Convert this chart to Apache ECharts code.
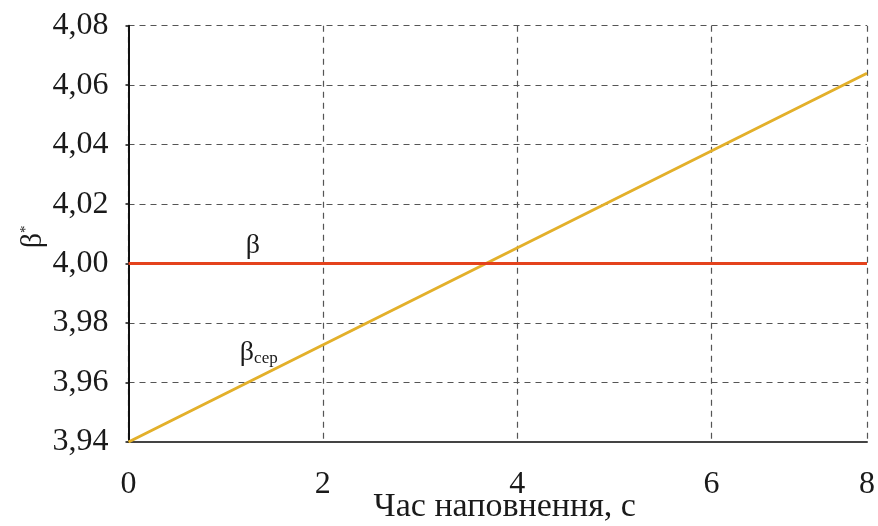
<!DOCTYPE html>
<html>
<head>
<meta charset="utf-8">
<script src="https://cdn.jsdelivr.net/npm/echarts@6/dist/echarts.min.js"></script>
<style>
  html, body { margin: 0; padding: 0; background: #fff; }
  #chart { width: 878px; height: 526px; }
</style>
</head>
<body>
<div id="chart"></div>
<script>
// Filling time, s
var fillTime = [0, 7.6];
// Target coefficient β (constant)
var betaValues = [4.00, 4.00];
// Mean coefficient β_сер over the filling time
var betaMeanValues = [3.94, 4.064];

// Time axis: ticks every 2 s, closing tick at the end of filling
var xTicks = { min: 0, max: 7.6, interval: 2 };
var xTickLabels = ['0', '2', '4', '6', '8'];
var yTicks = { min: 3.94, max: 4.08, interval: 0.02 };

var fontFamily = '"Liberation Serif", "DejaVu Serif", serif';

function pairs(xs, ys) {
  return xs.map(function (x, i) { return [x, ys[i]]; });
}

var chart = echarts.init(document.getElementById('chart'), null, { renderer: 'canvas' });

chart.setOption({
  backgroundColor: '#ffffff',
  animation: false,
  grid: {
    left: 128.5, right: 11, top: 25.7, bottom: 84,
    containLabel: false, outerBoundsMode: 'none'
  },
  xAxis: {
    type: 'value',
    min: xTicks.min, max: xTicks.max, interval: xTicks.interval,
    name: 'Час наповнення, с',
    nameLocation: 'middle',
    nameGap: 48,
    nameMoveOverlap: false,
    nameTextStyle: { fontFamily: fontFamily, fontSize: 34, color: '#1a1a1a', padding: [0, 0, 0, 14] },
    axisLine: { show: true, lineStyle: { color: '#444', width: 2 } },
    axisTick: { show: false },
    axisLabel: {
      margin: 27, fontFamily: fontFamily, fontSize: 32, color: '#1a1a1a',
      showMaxLabel: true,
      formatter: function (v, i) { return xTickLabels[i]; }
    },
    splitLine: { show: true, lineStyle: { color: '#555', width: 1.2, type: [6, 5] } }
  },
  yAxis: {
    type: 'value',
    min: yTicks.min, max: yTicks.max, interval: yTicks.interval,
    name: '{b|β}{s|*}',
    nameLocation: 'middle',
    nameRotate: 90,
    nameGap: 80,
    nameMoveOverlap: false,
    nameTextStyle: {
      padding: [0, 6, 0, 0],
      rich: {
        b: { fontFamily: fontFamily, fontSize: 30, color: '#1a1a1a' },
        s: { fontFamily: fontFamily, fontSize: 15, color: '#1a1a1a', verticalAlign: 'top', padding: [0, 0, 12, 0] }
      }
    },
    axisLine: { show: true, onZero: false, lineStyle: { color: '#111', width: 2 } },
    axisTick: { show: true, length: 3, lineStyle: { color: '#111', width: 1.5 } },
    axisLabel: {
      margin: 20, fontFamily: fontFamily, fontSize: 32, color: '#1a1a1a',
      formatter: function (v) { return v.toFixed(2).replace('.', ','); }
    },
    splitLine: { show: true, lineStyle: { color: '#555', width: 1.2, type: [6, 5] } }
  },
  series: [
    {
      name: 'β',
      type: 'line',
      data: pairs(fillTime, betaValues),
      symbol: 'none',
      lineStyle: { color: '#E4421C', width: 3 },
      z: 3,
      markPoint: {
        symbol: 'circle', symbolSize: 0,
        data: [{ coord: [1.28, 4.006], value: 'β' }],
        label: {
          show: true, position: 'inside',
          formatter: 'β',
          fontFamily: fontFamily, fontSize: 28, color: '#1a1a1a'
        }
      }
    },
    {
      name: 'β_сер',
      type: 'line',
      data: pairs(fillTime, betaMeanValues),
      symbol: 'none',
      lineStyle: { color: '#E3B02A', width: 3 },
      z: 2,
      markPoint: {
        symbol: 'circle', symbolSize: 0,
        data: [{ coord: [1.34, 3.970], value: 'βсер' }],
        label: {
          show: true, position: 'inside',
          formatter: '{b|β}{s|сер}',
          rich: {
            b: { fontFamily: fontFamily, fontSize: 28, color: '#1a1a1a' },
            s: { fontFamily: fontFamily, fontSize: 17, color: '#1a1a1a', verticalAlign: 'bottom', padding: [12, 0, 0, 0] }
          }
        }
      }
    }
  ]
});
</script>
</body>
</html>
